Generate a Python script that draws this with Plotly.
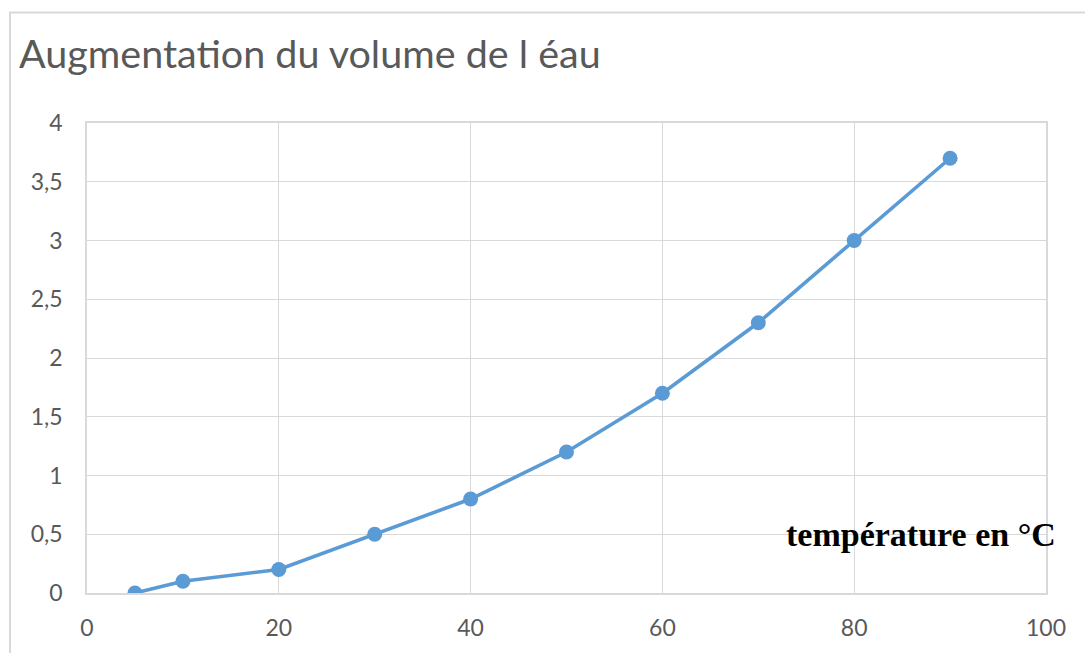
import plotly.graph_objects as go

# Température (°C) et augmentation du volume de l'eau
temperature = [5, 10, 20, 30, 40, 50, 60, 70, 80, 90]
augmentation = [0, 0.1, 0.2, 0.5, 0.8, 1.2, 1.7, 2.3, 3.0, 3.7]

x_ticks = [0, 20, 40, 60, 80, 100]
y_ticks = [0, 0.5, 1, 1.5, 2, 2.5, 3, 3.5, 4]

W, H = 1085, 653
ML, MR, MT, MB = 87, 39, 123, 56
pw, ph = W - ML - MR, H - MT - MB

def px(xp):
    return (xp - ML) / pw

def py(yp):
    return (H - MB - yp) / ph

blue = "#5B9BD5"
grid = "#D9D9D9"
label = "#595959"

fig = go.Figure()
fig.add_trace(go.Scatter(
    x=temperature, y=augmentation, mode="lines+markers",
    line=dict(color=blue, width=3.6),
    marker=dict(color=blue, size=15),
    showlegend=False,
))

axis_common = dict(
    showgrid=True, gridcolor=grid, gridwidth=1,
    zeroline=False, showline=True, linecolor=grid, linewidth=1.5, mirror=True,
    tickfont=dict(family="Lato", size=23, color=label),
    ticks="",
)
fig.update_xaxes(range=[0, 100], tickvals=x_ticks, ticklabelstandoff=14, **axis_common)
fig.update_yaxes(range=[0, 4], tickvals=y_ticks, ticklabelstandoff=18, **axis_common)

fig.add_annotation(
    text="Augmentation du volume de l éau", xref="paper", yref="paper",
    x=px(17), y=py(52), xanchor="left", yanchor="middle", showarrow=False,
    font=dict(family="Lato", size=39.5, color=label),
)
fig.add_annotation(
    text="<b>température en °C</b>", xref="x", yref="y",
    x=87, y=0.5, xanchor="center", yanchor="middle", showarrow=False,
    font=dict(family="Liberation Serif", size=34, color="black"),
)

# Cadre extérieur du graphique
fig.add_shape(
    type="rect", xref="paper", yref="paper",
    x0=px(10), y0=py(H + 20), x1=px(W + 20), y1=py(11.5),
    line=dict(color=grid, width=2), fillcolor="rgba(0,0,0,0)", layer="below",
)

fig.update_layout(
    width=W, height=H,
    margin=dict(l=ML, r=MR, t=MT, b=MB),
    paper_bgcolor="white", plot_bgcolor="white",
    separators=", ",
)

fig.write_html("out.html")
